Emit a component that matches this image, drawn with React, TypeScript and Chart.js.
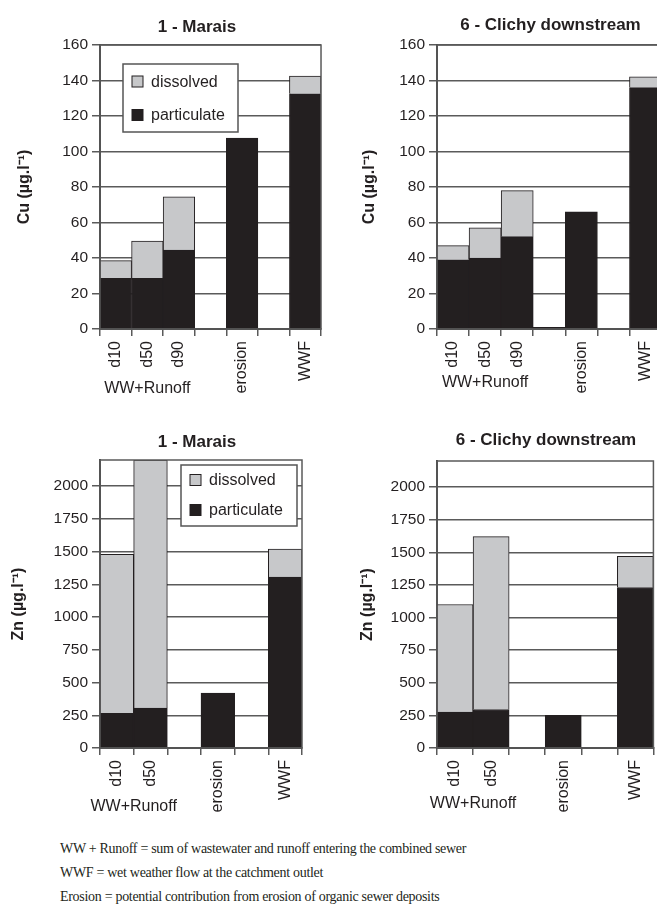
import React, { useEffect, useRef } from "react";
import { Chart, registerables } from "chart.js";

Chart.register(...registerables);

const FONT = 'Arial, "Liberation Sans", Helvetica, sans-serif';
const SERIF = '"Times New Roman", "Liberation Serif", serif';
const INK = "#231f20";
const GREY = "#c7c8ca";
const GRID = "#5a5a5a";
const AXIS = "#444444";

// ---- data ----
const cuCategories = ["d10", "d50", "d90", "", "erosion", "", "WWF"];
const znCategories = ["d10", "d50", "", "erosion", "", "WWF"];

const maraisCuParticulate = [28.5, 28.5, 44.5, null, 107.5, null, 132.5];
const maraisCuDissolved = [10, 21, 30, null, null, null, 10];
const clichyCuParticulate = [39, 40, 52, 1, 66, null, 136];
const clichyCuDissolved = [8, 17, 26, null, null, null, 6];

const maraisZnParticulate = [265, 305, null, 420, null, 1305];
const maraisZnDissolved = [1215, 1895, null, null, null, 215];
const clichyZnParticulate = [275, 295, null, 250, null, 1230];
const clichyZnDissolved = [825, 1325, null, null, null, 240];

const cuTickValues = [0, 20, 40, 60, 80, 100, 120, 140, 160];
const znTickValues = [0, 250, 500, 750, 1000, 1250, 1500, 1750, 2000];
const cuMax = 160;
const znMax = 2200;

const panelTitles = ["1 - Marais", "6 - Clichy downstream"];
const legendLabels = ["dissolved", "particulate"];
const groupLabel = "WW+Runoff";
const cuAxisTitle = "Cu (µg.l⁻¹)";
const znAxisTitle = "Zn (µg.l⁻¹)";
const footnotes = [
  "WW + Runoff = sum of wastewater and runoff entering the combined sewer",
  "WWF = wet weather flow at the catchment outlet",
  "Erosion = potential contribution from erosion of organic sewer deposits",
];

type Legend = { x: number; y: number; w: number; h: number; rows: number[]; sq: number; tx: number };
type PanelSpec = {
  left: number; top: number; width: number; height: number;
  yWidth: number; xHeight: number; padRight: number; padTop: number;
  categories: string[]; particulate: (number | null)[]; dissolved: (number | null)[];
  tickValues: number[]; max: number; axisTitle: string; axisTitlePad: number;
  title: string; titleX: number; titleY: number; groupEnd: number; groupDy: number;
  legend?: Legend;
};

const panels: PanelSpec[] = [
  {
    left: 0, top: 0, width: 330, height: 410, yWidth: 100, xHeight: 81, padRight: 8, padTop: 45,
    categories: cuCategories, particulate: maraisCuParticulate, dissolved: maraisCuDissolved,
    tickValues: cuTickValues, max: cuMax, axisTitle: cuAxisTitle, axisTitlePad: 15.4,
    title: panelTitles[0], titleX: 197, titleY: 27, groupEnd: 2, groupDy: 60,
    legend: { x: 23, y: 19, w: 115, h: 68, rows: [17.5, 51], sq: 11, tx: 28 },
  },
  {
    left: 330, top: 0, width: 340, height: 410, yWidth: 107, xHeight: 81, padRight: 4, padTop: 45,
    categories: cuCategories, particulate: clichyCuParticulate, dissolved: clichyCuDissolved,
    tickValues: cuTickValues, max: cuMax, axisTitle: cuAxisTitle, axisTitlePad: 30.4,
    title: panelTitles[1], titleX: 220.5, titleY: 25, groupEnd: 2, groupDy: 54,
  },
  {
    left: 0, top: 420, width: 330, height: 400, yWidth: 100, xHeight: 72, padRight: 28, padTop: 40,
    categories: znCategories, particulate: maraisZnParticulate, dissolved: maraisZnDissolved,
    tickValues: znTickValues, max: znMax, axisTitle: znAxisTitle, axisTitlePad: 9.4,
    title: panelTitles[0], titleX: 197, titleY: 22, groupEnd: 1, groupDy: 59,
    legend: { x: 81, y: 5, w: 116, h: 61, rows: [15, 45], sq: 11, tx: 28 },
  },
  {
    left: 330, top: 420, width: 330, height: 400, yWidth: 107, xHeight: 72, padRight: 5, padTop: 41,
    categories: znCategories, particulate: clichyZnParticulate, dissolved: clichyZnDissolved,
    tickValues: znTickValues, max: znMax, axisTitle: znAxisTitle, axisTitlePad: 28.4,
    title: panelTitles[1], titleX: 216, titleY: 20, groupEnd: 1, groupDy: 56,
  },
];

function Panel({ p }: { p: PanelSpec }) {
  const ref = useRef<HTMLCanvasElement>(null);
  useEffect(() => {
    if (!ref.current) return;
    const decor = {
      id: "decor",
      afterDatasetsDraw(chart: any) {
        const { ctx, chartArea: ca } = chart;
        ctx.save();
        ctx.strokeStyle = GRID;
        ctx.lineWidth = 1.5;
        ctx.strokeRect(ca.left, ca.top, ca.right - ca.left, ca.bottom - ca.top);
        if (p.legend) {
          const L = p.legend;
          const bx = ca.left + L.x;
          const by = ca.top + L.y;
          ctx.fillStyle = "#ffffff";
          ctx.fillRect(bx, by, L.w, L.h);
          ctx.strokeStyle = "#555555";
          ctx.lineWidth = 1.5;
          ctx.strokeRect(bx, by, L.w, L.h);
          const fills = [GREY, INK];
          ctx.font = `16px ${FONT}`;
          ctx.textBaseline = "middle";
          ctx.textAlign = "left";
          L.rows.forEach((ry, i) => {
            const cy = by + ry;
            ctx.fillStyle = fills[i];
            ctx.fillRect(bx + 9, cy - L.sq / 2, L.sq, L.sq);
            ctx.strokeStyle = INK;
            ctx.lineWidth = 1;
            ctx.strokeRect(bx + 9, cy - L.sq / 2, L.sq, L.sq);
            ctx.fillStyle = INK;
            ctx.fillText(legendLabels[i], bx + L.tx, cy + 1);
          });
        }
        ctx.restore();
      },
      afterDraw(chart: any) {
        const { ctx, chartArea: ca } = chart;
        const xs = chart.scales.x;
        ctx.save();
        ctx.fillStyle = INK;
        ctx.textAlign = "center";
        ctx.textBaseline = "middle";
        ctx.font = `bold 17px ${FONT}`;
        ctx.fillText(p.title, p.titleX, p.titleY);
        ctx.font = `16px ${FONT}`;
        const gx = (xs.getPixelForValue(0) + xs.getPixelForValue(p.groupEnd)) / 2;
        ctx.fillText(groupLabel, gx, ca.bottom + p.groupDy);
        ctx.restore();
      },
    };
    const chart = new Chart(ref.current, {
      type: "bar",
      data: {
        labels: p.categories,
        datasets: [
          { label: legendLabels[1], data: p.particulate as any, backgroundColor: INK, borderColor: INK, borderWidth: 1, stack: "s" },
          { label: legendLabels[0], data: p.dissolved as any, backgroundColor: GREY, borderColor: INK, borderWidth: 1, stack: "s" },
        ],
      },
      options: {
        responsive: false,
        animation: false,
        events: [],
        layout: { padding: { left: 0, right: p.padRight, top: p.padTop, bottom: 0 } },
        plugins: { legend: { display: false }, tooltip: { enabled: false }, title: { display: false } },
        datasets: { bar: { categoryPercentage: 1, barPercentage: 1 } },
        scales: {
          x: {
            stacked: true,
            offset: true,
            grid: { offset: true, drawOnChartArea: false, drawTicks: true, tickLength: 7, color: GRID, lineWidth: 1.5 },
            border: { display: true, color: AXIS, width: 2 },
            ticks: { autoSkip: false, minRotation: 90, maxRotation: 90, padding: 5, color: INK, font: { size: 16, family: FONT } },
            afterFit: (s: any) => { s.height = p.xHeight; },
          },
          y: {
            stacked: true,
            min: 0,
            max: p.max,
            grid: { color: GRID, lineWidth: 1.5, tickLength: 8, drawTicks: true },
            border: { display: true, color: AXIS, width: 2 },
            ticks: { padding: 4, color: INK, font: { size: 15.5, family: FONT }, callback: (v: any) => String(v) },
            afterBuildTicks: (s: any) => { s.ticks = p.tickValues.map((v) => ({ value: v })); },
            afterFit: (s: any) => { s.width = p.yWidth; },
            title: {
              display: true, text: p.axisTitle, color: INK,
              font: { size: 16, weight: "bold", family: FONT },
              padding: { top: p.axisTitlePad, bottom: 0 },
            },
          },
        },
      } as any,
      plugins: [decor],
    });
    return () => chart.destroy();
  }, []);
  return (
    <canvas
      ref={ref}
      width={p.width}
      height={p.height}
      style={{ position: "absolute", left: p.left, top: p.top, width: p.width, height: p.height }}
    />
  );
}

export default function App() {
  return (
    <div style={{ position: "fixed", left: 0, top: 0, width: 657, height: 907, overflow: "hidden", background: "#ffffff" }}>
      {panels.map((p, i) => (
        <Panel key={i} p={p} />
      ))}
      {footnotes.map((t, i) => (
        <div
          key={i}
          style={{
            position: "absolute", left: 60, top: 837 + 24 * i, fontFamily: SERIF, fontSize: 14,
            letterSpacing: "-0.3px", lineHeight: "24px", color: INK, whiteSpace: "nowrap",
          }}
        >
          {t}
        </div>
      ))}
    </div>
  );
}
